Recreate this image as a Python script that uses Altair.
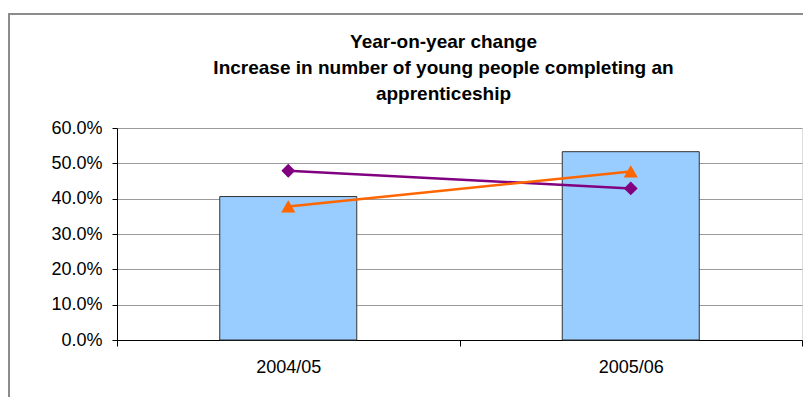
import altair as alt
import pandas as pd

# ---- data ----
years = ["2004/05", "2005/06"]
bar_values = [0.406, 0.533]
purple_values = [0.479, 0.429]
orange_values = [0.378, 0.477]
y_ticks = [0.0, 0.1, 0.2, 0.3, 0.4, 0.5, 0.6]
title_lines = [
    "Year-on-year change",
    "Increase in number of young people completing an",
    "apprenticeship",
]

FONT = "Liberation Sans"

bars_df = pd.DataFrame({"year": years, "value": bar_values})
purple_df = pd.DataFrame({"year": years, "value": purple_values})
orange_df = pd.DataFrame({"year": years, "value": orange_values})
frame_df = pd.DataFrame({"k": [0]})

x_enc = alt.X(
    "year:N",
    sort=years,
    title=None,
    scale=alt.Scale(paddingInner=0, paddingOuter=0),
    axis=alt.Axis(
        labelAngle=0,
        tickBand="extent",
        domainColor="black",
        domainWidth=1,
        tickColor="black",
        tickSize=6,
        labelFont=FONT,
        labelFontSize=18,
        labelColor="black",
        labelPadding=12,
        grid=False,
    ),
)
y_enc = alt.Y(
    "value:Q",
    title=None,
    scale=alt.Scale(domain=[0, 0.6], nice=False, zero=True),
    axis=alt.Axis(
        values=y_ticks,
        tickCount=7,
        format=".1%",
        labelOverlap=False,
        domainColor="black",
        domainWidth=1,
        tickColor="black",
        tickSize=5,
        labelFont=FONT,
        labelFontSize=18,
        labelColor="black",
        labelPadding=10,
        grid=True,
        gridColor="#9a9a9a",
        gridWidth=1,
    ),
)

frame = alt.Chart(frame_df).mark_rect(
    filled=False, stroke="#8c8c8c", strokeWidth=2
).encode(
    x=alt.value(-108), x2=alt.value(900), y=alt.value(-114), y2=alt.value(400)
)

bars = alt.Chart(bars_df).mark_bar(
    width=alt.RelativeBandSize(0.4),
    color="#99CCFF",
    stroke="#333333",
    strokeWidth=1,
).encode(x=x_enc, y=y_enc)

purple_line = alt.Chart(purple_df).mark_line(
    color="#800080", strokeWidth=2.5
).encode(x=x_enc, y=y_enc)
purple_pts = alt.Chart(purple_df).mark_point(
    shape="diamond", filled=True, color="#800080", size=190, opacity=1
).encode(x=x_enc, y=y_enc)

orange_line = alt.Chart(orange_df).mark_line(
    color="#FF6600", strokeWidth=2.5
).encode(x=x_enc, y=y_enc)
orange_pts = alt.Chart(orange_df).mark_point(
    shape="triangle-up", filled=True, color="#FF6600", size=200, opacity=1
).encode(x=x_enc, y=y_enc)

chart = alt.layer(
    frame, bars, purple_line, purple_pts, orange_line, orange_pts
).properties(
    width=685,
    height=212,
    autosize=alt.AutoSizeParams(type="none"),
    padding={"left": 109, "top": 120, "right": 1, "bottom": 57},
    title=alt.TitleParams(
        text=title_lines,
        font=FONT,
        fontSize=19,
        fontWeight="bold",
        color="black",
        lineHeight=26,
        anchor="middle",
        frame="group",
        baseline="bottom",
        offset=0,
        dx=-16,
        dy=110,
    ),
).configure_view(
    stroke="#c0c0c0", strokeWidth=2
).configure(background="white")

chart.save("out.html", embed_options={"renderer": "svg", "actions": False})
